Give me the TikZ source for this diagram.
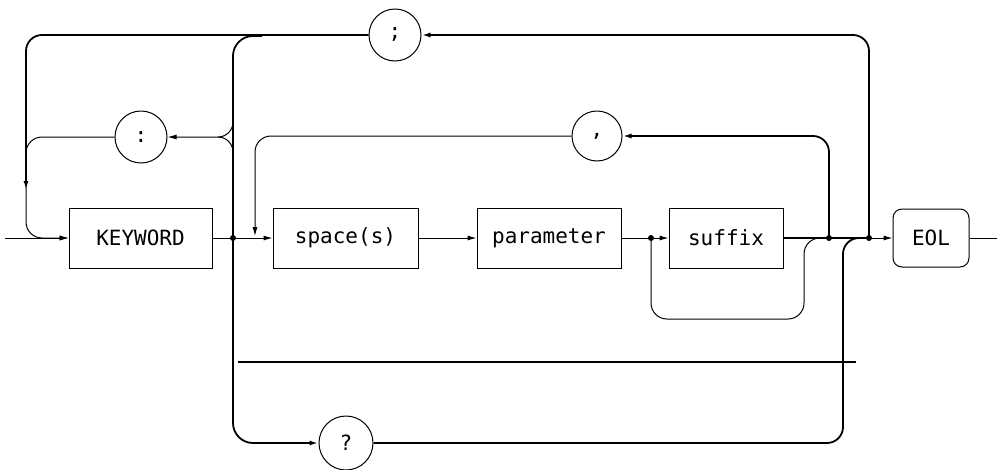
\documentclass[tikz,border=0pt]{standalone}
\usepackage{fontspec}
\newfontfamily\plotterfont{DejaVu Sans Mono}
\usetikzlibrary{arrows.meta}

\begin{document}
\begin{tikzpicture}
[x=1pt,y=-1pt,
  boxdecorate/.style={shape=rectangle,draw,line width=1pt,minimum height=60,inner sep=0pt},
  circledecorate/.style={shape=circle,draw,line width=1pt,inner sep=0pt},
  dotdecorate/.style={shape=circle,fill,inner sep=0pt,minimum size=6},
  linedecorate/.style={-,line width=1pt},
  heavydecorate/.style={-,line width=1.8pt},
  arrowdecorate/.style={-{Latex[length=9pt,width=5pt]}},
  font=\plotterfont\fontsize{21}{25}\selectfont]
\useasboundingbox (0,0) rectangle (1002,469);
%% boxes and circles
\foreach \nodename/\x/\w/\txt in {keyword/140.5/143/KEYWORD,
  spaces/345.5/145/{space(s)}, param/549/144/parameter, suffix/726/114/suffix}
{
  \node (\nodename) at (\x,238) [boxdecorate,minimum width=\w] {\txt};
}
\node (eol) at (931,238) [boxdecorate,rounded corners=9pt,minimum width=76,minimum height=58] {EOL};
\foreach \nodename/\x/\y/\r/\txt in {semi/395/35/26/;, colon/141/137/26/:,
  comma/597/136/25/{,}, quest/346/443/27/?}
{
  \node (\nodename) at (\x,\y) [circledecorate,minimum size=2*\r] {\txt};
}
%% junctions
\foreach \nodename/\x in {j1/233, j2/651, j3/829, j4/869}
{
  \node (\nodename) at (\x,238) [dotdecorate] {};
}
\coordinate (entry) at (5,238);
\coordinate (exit) at (997,238);
\coordinate (leftturn) at (26,190);
\coordinate (braceup) at (233,110);
\coordinate (bracedown) at (233,165);
\coordinate (brace) at (218,137);
\coordinate (topjoin) at (262,36);
\coordinate (commadrop) at (255,236);
\coordinate (bypass) at (804,319);
\coordinate (qturn) at (843,320);
\coordinate (rulestart) at (238,362);
\coordinate (ruleend) at (856,362);
%% main line
\draw[linedecorate,arrowdecorate] (entry) -- (keyword);
\draw[linedecorate] (keyword) -- (j1.center);
\draw[linedecorate,arrowdecorate] (j1.center) -- (spaces);
\draw[linedecorate,arrowdecorate] (spaces) -- (param);
\draw[linedecorate] (param) -- (j2.center);
\draw[linedecorate,arrowdecorate] (j2.center) -- (suffix);
\draw[heavydecorate] (suffix) -- (j4.center);
\draw[linedecorate,arrowdecorate] (j4.center) -- (eol);
\draw[linedecorate] (eol) -- (exit);
%% loops
\draw[heavydecorate,arrowdecorate,rounded corners=16pt] (j4.center) |- (semi);
\draw[heavydecorate,arrowdecorate,rounded corners=16pt] (semi) -| (leftturn);
\draw[linedecorate,arrowdecorate,rounded corners=16pt] (leftturn) |- (keyword);
\draw[linedecorate,rounded corners=16pt] (colon) -| (leftturn);
\draw[linedecorate,arrowdecorate,rounded corners=15pt] (braceup) |- (colon);
\draw[linedecorate,rounded corners=15pt] (bracedown) |- (brace);
\draw[heavydecorate,rounded corners=20pt] (topjoin) -| (j1.center);
\draw[heavydecorate,arrowdecorate,rounded corners=20pt] (j1.center) |- (quest);
\draw[heavydecorate,arrowdecorate,rounded corners=16pt] (j3.center) |- (comma);
\draw[linedecorate,arrowdecorate,rounded corners=16pt] (comma) -| (commadrop);
\draw[linedecorate,rounded corners=16pt] (j2.center) |- (bypass) |- (j3.center);
\draw[heavydecorate,rounded corners=16pt] (quest) -| (qturn) |- (j4.center);
\draw[heavydecorate] (rulestart) -- (ruleend);
\end{tikzpicture}
\end{document}
